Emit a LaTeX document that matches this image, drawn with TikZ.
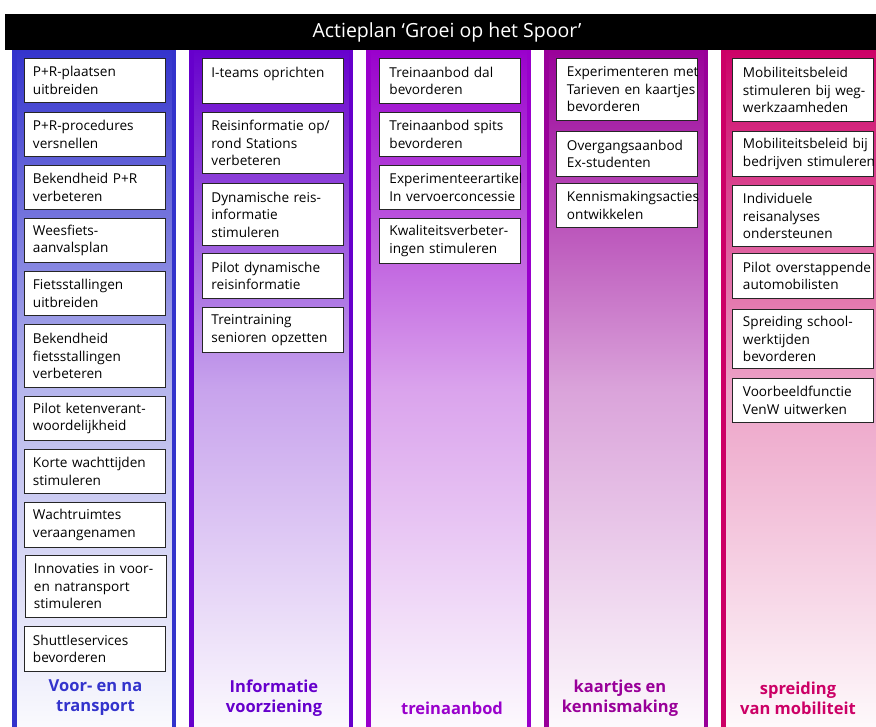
\documentclass[tikz,border=0pt]{standalone}
\usepackage{fontspec}
\setmainfont{Open Sans}
\definecolor{cA}{HTML}{3333CC}
\definecolor{cB}{HTML}{6600CC}
\definecolor{cC}{HTML}{9900CC}
\definecolor{cD}{HTML}{990099}
\definecolor{cE}{HTML}{CC0066}
\tikzset{
  colbar/.style={draw=#1, line width=4.5pt, top color=#1, bottom color=#1!2!white, middle color=#1!36!white},
  abox/.style={draw=black!85, line width=0.9pt, fill=white, anchor=north west,
    minimum width=141pt, inner ysep=2pt, align=left,
    font=\fontsize{13.6}{17.5}\selectfont,
    execute at begin node={\hyphenpenalty=10000\exhyphenpenalty=10000}},
  bA/.style={abox, inner xsep=8.5pt, text width=124pt, minimum height=#1},
  bB/.style={abox, inner xsep=9pt, text width=123pt, minimum height=#1},
  bC/.style={abox, inner xsep=10pt, text width=121pt, minimum height=#1},
  bD/.style={abox, inner xsep=10.5pt, text width=120pt, minimum height=#1},
  bE/.style={abox, inner xsep=10.5pt, text width=120pt, minimum height=#1},
  collabel/.style={font=\fontsize{16.5}{20}\selectfont\bfseries, align=center, text=#1},
}
\begin{document}
\begin{tikzpicture}[x=1pt,y=-1pt]
\useasboundingbox (0,0) rectangle (876,726);
\fill[white] (0,0) rectangle (876,726);
% columns
\draw[colbar=cA] (14.25,47) rectangle (173.75,732);
\draw[colbar=cB] (191.25,47) rectangle (350.75,732);
\draw[colbar=cC] (368.25,47) rectangle (528.75,732);
\draw[colbar=cD] (546.25,47) rectangle (705.75,732);
\draw[colbar=cE] (723.25,47) rectangle (885,732);
% title bar
\fill[black] (5,14) rectangle (885,50);
\node[font=\fontsize{19.5}{23}\selectfont, text=white] (title) at (447,32) {Actieplan ‘Groei op het Spoor’};
% column 1
\node[bA=44pt] (a1) at (24,58) {P+R-plaatsen\\uitbreiden};
\node[bA=44pt] (a2) at (24,112) {P+R-procedures\\versnellen};
\node[bA=44pt] (a3) at (24,165) {Bekendheid~P+R\\verbeteren};
\node[bA=44pt] (a4) at (24,218) {Weesfiets-\\aanvalsplan};
\node[bA=44pt] (a5) at (24,271) {Fietsstallingen\\uitbreiden};
\node[bA=63pt] (a6) at (24,324) {Bekendheid\\fietsstallingen\\verbeteren};
\node[bA=44pt] (a7) at (24,396) {Pilot~ketenverant-\\woordelijkheid};
\node[bA=44pt] (a8) at (24,449) {Korte~wachttijden\\stimuleren};
\node[bA=45pt] (a9) at (24,502) {Wachtruimtes\\veraangenamen};
\node[bA=62pt] (a10) at (25,555) {Innovaties~in~voor-\\en~natransport\\stimuleren};
\node[bA=45pt] (a11) at (24,626) {Shuttleservices\\bevorderen};
% column 2
\node[bB=45pt] (b1) at (202,58) {I-teams~oprichten\\\mbox{}};
\node[bB=61pt] (b2) at (202,112) {Reisinformatie~op/\\rond~Stations\\verbeteren};
\node[bB=62pt] (b3) at (202,183) {Dynamische~reis-\\informatie\\stimuleren};
\node[bB=45pt] (b4) at (202,253) {Pilot~dynamische\\reisinformatie};
\node[bB=45pt] (b5) at (202,307) {Treintraining\\senioren~opzetten};
% column 3
\node[bC=45pt] (c1) at (379,58) {Treinaanbod~dal\\bevorderen};
\node[bC=44pt] (c2) at (379,112) {Treinaanbod~spits\\bevorderen};
\node[bC=44pt] (c3) at (379,165) {Experimenteerartikel\\In~vervoerconcessie};
\node[bC=45pt] (c4) at (379,218) {Kwaliteitsverbeter-\\ingen~stimuleren};
% column 4
\node[bD=62pt] (d1) at (556,58) {Experimenteren~met\\Tarieven~en~kaartjes\\bevorderen};
\node[bD=45pt] (d2) at (556,131) {Overgangsaanbod\\Ex-studenten};
\node[bD=44pt] (d3) at (556,183) {Kennismakingsacties\\ontwikkelen};
% column 5
\node[bE=63pt] (e1) at (732,58) {Mobiliteitsbeleid\\stimuleren~bij~weg-\\werkzaamheden};
\node[bE=45pt] (e2) at (732,131) {Mobiliteitsbeleid~bij\\bedrijven~stimuleren};
\node[bE=61pt] (e3) at (732,185) {Individuele\\reisanalyses\\ondersteunen};
\node[bE=45pt] (e4) at (732,253) {Pilot~overstappende\\automobilisten};
\node[bE=59pt] (e5) at (732,309) {Spreiding~school-\\werktijden\\bevorderen};
\node[bE=44pt] (e6) at (732,378) {Voorbeeldfunctie\\VenW~uitwerken};
% labels
\node[collabel=cA] (la) at (95.5,698) {Voor- en na\\transport};
\node[collabel=cB] (lb) at (274,698) {Informatie\\voorziening};
\node[collabel=cC] (lc) at (452,708) {treinaanbod};
\node[collabel=cD] (ld) at (620,698) {kaartjes en\\kennismaking};
\node[collabel=cE] (le) at (798,698) {spreiding\\van mobiliteit};
\end{tikzpicture}
\end{document}
